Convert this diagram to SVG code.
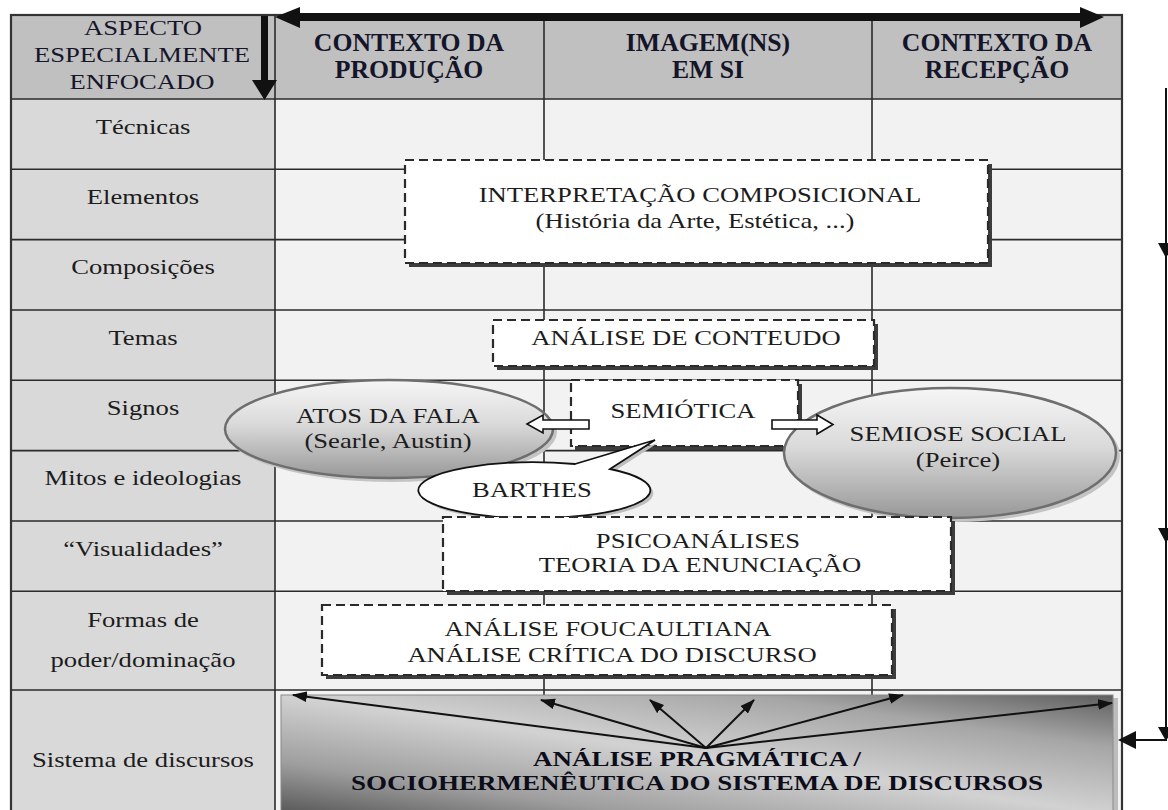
<svg xmlns="http://www.w3.org/2000/svg" width="1168" height="810" viewBox="0 0 1168 810">
<style>
.t{font-family:"Liberation Serif","Times New Roman",serif;text-anchor:middle;fill:#1c1c1c}
.hb{font-size:24.5px;font-weight:bold;fill:#15152a}
.hr{font-size:20.5px;fill:#15152a}
.r{font-size:20.5px}
.bb{font-size:21px;font-weight:bold;fill:#0d0d1a}
.grid{stroke:#2b2b2b;stroke-width:1.6;fill:none}
.box{fill:#fff;stroke:#2a2a2a;stroke-width:2.2;stroke-dasharray:9 5}
.sh{fill:#3d3d3d}
.ell{fill:url(#eg);stroke:#6e6e6e;stroke-width:2.5}
.esh{fill:#c4c4c4}
.conn{stroke:#111;stroke-width:2;fill:none}
.blk{fill:#fff;stroke:#111;stroke-width:1.6}
.fill{fill:#111}
</style>
<defs>
<linearGradient id="eg" x1="0" y1="0" x2="0" y2="1">
<stop offset="0" stop-color="#f6f6f6"/>
<stop offset="0.45" stop-color="#dadada"/>
<stop offset="1" stop-color="#989898"/>
</linearGradient>
<linearGradient id="bgr" x1="0" y1="1" x2="1" y2="0">
<stop offset="0" stop-color="#555555"/>
<stop offset="0.22" stop-color="#9e9e9e"/>
<stop offset="0.5" stop-color="#d2d2d2"/>
<stop offset="0.78" stop-color="#a6a6a6"/>
<stop offset="1" stop-color="#5e5e5e"/>
</linearGradient>
<marker id="ah" viewBox="0 0 14 10" refX="13" refY="5" markerWidth="15" markerHeight="11" markerUnits="userSpaceOnUse" orient="auto">
<path d="M0,0 L14,5 L0,10 Z" fill="#111"/>
</marker>
</defs>

<rect width="1168" height="810" fill="#fff"/>

<g id="table">
<rect x="11" y="15" width="1111" height="84" fill="#c0c0c0"/>
<rect x="11" y="99" width="264" height="711" fill="#d9d9d9"/>
<rect x="275" y="99" width="847" height="711" fill="#f2f2f2"/>
<path class="grid" d="M11,99H1122 M11,169.3H1122 M11,239.6H1122 M11,310H1122 M11,380.3H1122 M11,450.6H1122 M11,521H1122 M11,591.3H1122 M11,690H1122 M275,15V810 M544,15V810 M872,15V810"/>
<rect x="11" y="15" width="1111" height="800" fill="none" stroke="#333" stroke-width="2.2"/>
</g>

<g id="header">
<text class="t hr" transform="translate(143 35) scale(1.3 1)">ASPECTO</text>
<text class="t hr" transform="translate(142 62) scale(1.3 1)">ESPECIALMENTE</text>
<text class="t hr" transform="translate(142 89) scale(1.3 1)">ENFOCADO</text>
<text class="t hb" transform="translate(409 50.5) scale(1.05 1)">CONTEXTO DA</text>
<text class="t hb" transform="translate(409 78) scale(1.05 1)">PRODUÇÃO</text>
<text class="t hb" transform="translate(708 50.5) scale(1.05 1)">IMAGEM(NS)</text>
<text class="t hb" transform="translate(708 78) scale(1.05 1)">EM SI</text>
<text class="t hb" transform="translate(997 50.5) scale(1.05 1)">CONTEXTO DA</text>
<text class="t hb" transform="translate(997 78) scale(1.05 1)">RECEPÇÃO</text>
</g>

<g id="row-labels">
<text class="t r" transform="translate(143 134) scale(1.3 1)">Técnicas</text>
<text class="t r" transform="translate(143 204) scale(1.3 1)">Elementos</text>
<text class="t r" transform="translate(143 274) scale(1.3 1)">Composições</text>
<text class="t r" transform="translate(143 345) scale(1.3 1)">Temas</text>
<text class="t r" transform="translate(143 415) scale(1.3 1)">Signos</text>
<text class="t r" transform="translate(143 485) scale(1.3 1)">Mitos e ideologias</text>
<text class="t r" transform="translate(143 556) scale(1.3 1)">“Visualidades”</text>
<text class="t r" transform="translate(143 627) scale(1.3 1)">Formas de</text>
<text class="t r" transform="translate(143 667) scale(1.3 1)">poder/dominação</text>
<text class="t r" transform="translate(143 767) scale(1.3 1)">Sistema de discursos</text>
</g>

<g id="interpretacao">
<rect class="sh" x="409" y="164" width="583" height="103"/>
<rect class="box" x="405" y="160" width="583" height="103"/>
<text class="t r" transform="translate(700 202) scale(1.3 1)">INTERPRETAÇÃO  COMPOSICIONAL</text>
<text class="t r" transform="translate(695 228) scale(1.3 1)">(História da Arte, Estética, ...)</text>
</g>

<g id="conteudo">
<rect class="sh" x="497" y="324" width="381" height="46"/>
<rect class="box" x="493" y="320" width="381" height="46"/>
<text class="t r" transform="translate(686 345) scale(1.3 1)">ANÁLISE DE CONTEUDO</text>
</g>

<g id="semiotica">
<rect class="sh" x="575" y="384" width="227" height="66"/>
<rect class="box" x="571" y="380" width="227" height="66"/>
<text class="t r" transform="translate(683 418) scale(1.3 1)">SEMIÓTICA</text>
</g>

<g id="atos-da-fala">
<ellipse class="esh" cx="392" cy="432" rx="165" ry="50"/>
<ellipse class="ell" cx="389" cy="429" rx="164" ry="49"/>
<text class="t r" transform="translate(388 423) scale(1.3 1)">ATOS DA FALA</text>
<text class="t r" transform="translate(388 448) scale(1.3 1)">(Searle, Austin)</text>
</g>

<g id="semiose-social">
<ellipse class="esh" cx="953" cy="456" rx="167" ry="66"/>
<ellipse class="ell" cx="950" cy="453" rx="166" ry="65"/>
<text class="t r" transform="translate(958 441) scale(1.3 1)">SEMIOSE SOCIAL</text>
<text class="t r" transform="translate(958 467) scale(1.3 1)">(Peirce)</text>
</g>

<g id="barthes">
<path d="M578,467 L658,443 L613,472 A116,28 0 1 1 578,467 Z" fill="#bdbdbd"/>
<path d="M575,464 L655,440 L610,469 A116,28 0 1 1 575,464 Z" fill="#fff" stroke="#111" stroke-width="1.8"/>
<text class="t r" transform="translate(532 497) scale(1.3 1)">BARTHES</text>
</g>

<g id="psicoanalises">
<rect class="sh" x="447" y="521" width="508" height="74"/>
<rect class="box" x="443" y="517" width="508" height="74"/>
<text class="t r" transform="translate(698 548) scale(1.3 1)">PSICOANÁLISES</text>
<text class="t r" transform="translate(700 572) scale(1.3 1)">TEORIA DA ENUNCIAÇÃO</text>
</g>

<g id="foucaultiana">
<rect class="sh" x="326" y="609" width="570" height="70"/>
<rect class="box" x="322" y="605" width="570" height="70"/>
<text class="t r" transform="translate(608 636) scale(1.3 1)">ANÁLISE FOUCAULTIANA</text>
<text class="t r" transform="translate(612 662) scale(1.3 1)">ANÁLISE CRÍTICA DO DISCURSO</text>
</g>

<g id="pragmatica">
<rect x="284" y="698" width="834" height="120" fill="#bcbcbc"/>
<rect x="281" y="695" width="832" height="120" fill="url(#bgr)" stroke="#8a8a8a" stroke-width="1"/>
<text class="t bb" x="697" y="766" textLength="328" lengthAdjust="spacingAndGlyphs">ANÁLISE PRAGMÁTICA /</text>
<text class="t bb" x="697" y="790" textLength="692" lengthAdjust="spacingAndGlyphs">SOCIOHERMENÊUTICA  DO SISTEMA  DE DISCURSOS</text>
</g>

<g id="connectors">
<rect x="296" y="13" width="788" height="8" fill="#111"/>
<polygon class="fill" points="275,17 300,7 300,28"/>
<polygon class="fill" points="1104,17 1080,7 1080,28"/>
<rect x="261" y="16" width="7" height="66" fill="#111"/>
<polygon class="fill" points="252,80 277,80 264.5,100"/>
<path class="conn" d="M1166,88 V740 H1130"/>
<polygon class="fill" points="1158,243 1174,243 1166,258"/>
<polygon class="fill" points="1158,528 1174,528 1166,543"/>
<polygon class="fill" points="1158,727 1174,727 1166,741"/>
<polygon class="fill" points="1118,740 1136,731 1136,749"/>
<path class="blk" d="M527,424 L543,415 L543,420 L589,420 L589,429 L543,429 L543,433 Z"/>
<path class="blk" d="M772,420 L817,420 L817,415 L833,424.5 L817,434 L817,429 L772,429 Z"/>
<path class="conn" marker-end="url(#ah)" d="M706,748 L293,695"/>
<path class="conn" marker-end="url(#ah)" d="M706,748 L541,700"/>
<path class="conn" marker-end="url(#ah)" d="M706,748 L650,700"/>
<path class="conn" marker-end="url(#ah)" d="M706,748 L754,700"/>
<path class="conn" marker-end="url(#ah)" d="M706,748 L903,695"/>
<path class="conn" marker-end="url(#ah)" d="M706,748 L1112,703"/>
</g>
</svg>
